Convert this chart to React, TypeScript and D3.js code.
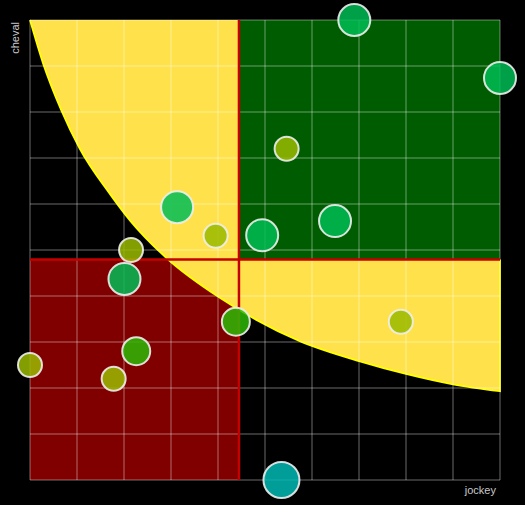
import React from "react";
import * as d3 from "d3";

// horse / jockey scores (normalised 0..10)
const jockeyScore = [6.9, 10, 5.46, 3.13, 3.95, 4.94, 6.49, 2.15, 2.01, 4.38, 7.89, 2.26, 0, 1.78, 5.35];
const chevalScore = [10, 8.74, 7.2, 5.93, 5.31, 5.32, 5.63, 5.0, 4.37, 3.44, 3.44, 2.8, 2.5, 2.2, 0];
const groupIndex = [1, 1, 0, 1, 0, 1, 1, 0, 1, 2, 0, 2, 0, 0, 3];
const groupColors = ["#9aba00", "#00bc55", "#2db805", "#00b8b4"];
const groupRadius = [12, 16, 14, 18];

// frontier curve
const frontierX = [0, 0.28, 0.66, 1.06, 1.7, 2.13, 2.91, 4.04, 5.74, 7.02, 8.02, 9.0, 10];
const frontierY = [10, 9.05, 8.05, 7.2, 6.22, 5.64, 4.82, 3.96, 3.02, 2.58, 2.3, 2.08, 1.93];

const W = 525;
const H = 505;

export default function App() {
  const x = d3.scaleLinear().domain(d3.extent(jockeyScore) as [number, number]).range([30, 500]);
  const y = d3.scaleLinear().domain(d3.extent(chevalScore) as [number, number]).range([480, 20]);
  const mx = d3.mean(jockeyScore) as number;
  const my = d3.mean(chevalScore) as number;
  const [x0, x1] = x.domain();
  const [y0, y1] = y.domain();

  const pts: [number, number][] = frontierX.map((v, i) => [v, frontierY[i]]);
  const line = d3
    .line<[number, number]>()
    .x((d) => x(d[0]))
    .y((d) => y(d[1]))
    .curve(d3.curveMonotoneX);
  const curvePath = line(pts) as string;
  const areaPath = curvePath + `L${x(x1)},${y(y1)}L${x(x0)},${y(y1)}Z`;
  const strokePath = curvePath + `L${x(x1)},${y(my)}`;

  const ticks = d3.range(0, 11);

  return (
    <svg
      width={W}
      height={H}
      style={{ position: "absolute", left: 0, top: 0, display: "block" }}
      fontFamily="Liberation Sans, Arial, sans-serif"
    >
      <rect x={0} y={0} width={W} height={H} fill="#000" />
      {/* bottom-left quadrant */}
      <rect x={x(x0)} y={y(my)} width={x(mx) - x(x0)} height={y(y0) - y(my)} fill="#800000" />
      {/* yellow zone above frontier */}
      <path d={areaPath} fill="#ffe24b" />
      <path d={strokePath} fill="none" stroke="#ffff00" strokeWidth={1.8} />
      {/* top-right quadrant */}
      <rect x={x(mx)} y={y(y1)} width={x(x1) - x(mx)} height={y(my) - y(y1)} fill="#005c00" />
      {/* grid */}
      <g stroke="#fff" strokeOpacity={0.28} strokeWidth={1.5}>
        {ticks.map((t) => (
          <line key={"v" + t} x1={x(t)} x2={x(t)} y1={y(y0)} y2={y(y1)} />
        ))}
        {ticks.map((t) => (
          <line key={"h" + t} x1={x(x0)} x2={x(x1)} y1={y(t)} y2={y(t)} />
        ))}
      </g>
      {/* mean lines */}
      <line x1={x(mx)} x2={x(mx)} y1={y(y0)} y2={y(y1)} stroke="#c40000" strokeWidth={2.5} />
      <line x1={x(x0)} x2={x(x1)} y1={y(my)} y2={y(my)} stroke="#c40000" strokeWidth={2.5} />
      {/* bubbles */}
      {jockeyScore.map((v, i) => (
        <circle
          key={i}
          cx={x(v)}
          cy={y(chevalScore[i])}
          r={groupRadius[groupIndex[i]]}
          fill={groupColors[groupIndex[i]]}
          fillOpacity={0.85}
          stroke="#eeeeee"
          strokeOpacity={0.9}
          strokeWidth={2}
        />
      ))}
      <text
        transform={`translate(19,22) rotate(-90)`}
        textAnchor="end"
        fontSize={11}
        fill="#c8c8c8"
      >
        cheval
      </text>
      <text x={496} y={494} textAnchor="end" fontSize={11} fill="#c8c8c8">
        jockey
      </text>
    </svg>
  );
}
